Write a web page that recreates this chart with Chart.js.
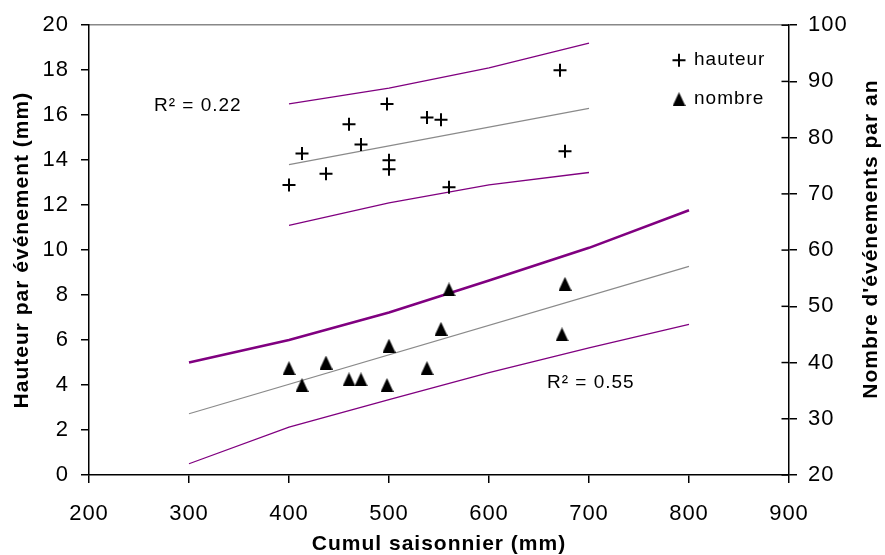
<!DOCTYPE html>
<html>
<head>
<meta charset="utf-8">
<script src="https://cdn.jsdelivr.net/npm/chart.js@4.4.1/dist/chart.umd.min.js"></script>
<style>
  body { margin: 0; background: #fff; }
  canvas { display: block; }
</style>
</head>
<body>
<canvas id="chart" width="885" height="555"></canvas>
<script>
// Hauteur par evenement (axe de gauche)
const cumulH = [400, 413, 437, 460, 472, 498, 500, 500, 538, 552, 560, 671, 676];
const hauteur = [12.9, 14.3, 13.4, 15.6, 14.7, 16.5, 14.0, 13.6, 15.9, 15.8, 12.8, 18.0, 14.4];

// Nombre d'evenements par an (axe de droite)
const cumulN = [400, 413, 437, 460, 472, 500, 498, 538, 552, 560, 673, 676];
const nombre = [39, 36, 40, 37, 37, 43, 36, 39, 46, 53, 45, 54];

// regression + intervalles
const bandH_x = [400, 500, 600, 700];
const bandH_hi = [16.5, 17.2, 18.1, 19.2];
const bandH_lo = [11.1, 12.1, 12.9, 13.45];
const trendH_x = [400, 700];
const trendH = [13.8, 16.3];

const bandN_x = [300, 400, 500, 600, 700, 800];
const bandN_hi = [40.0, 44.0, 48.9, 54.6, 60.4, 67.1];
const bandN_lo = [22.0, 28.5, 33.4, 38.2, 42.6, 46.8];
const trendN_x = [300, 800];
const trendN = [30.9, 57.1];

const r2H = 'R\u00b2 = 0.22';
const r2N = 'R\u00b2 = 0.55';
const titleY2 = "Nombre d'événements par an";

const xTicks = [200, 300, 400, 500, 600, 700, 800, 900];

const purple = '#800080';
const grey = '#8a8a8a';
const FONT = '"Liberation Sans", Arial, sans-serif';

function pts(xs, ys) {
  return xs.map((x, i) => ({ x: x, y: ys[i] }));
}

// triangle marker
const tri = document.createElement('canvas');
tri.width = 13; tri.height = 14;
const tctx = tri.getContext('2d');
tctx.fillStyle = '#000';
tctx.beginPath();
tctx.moveTo(6.5, 0);
tctx.lineTo(13, 14);
tctx.lineTo(0, 14);
tctx.closePath();
tctx.fill();

Chart.defaults.font.family = FONT;
Chart.defaults.color = '#000';

const spacing = {
  id: 'spacing',
  beforeUpdate(chart) { chart.ctx.letterSpacing = '1px'; },
  beforeLayout(chart) { chart.ctx.letterSpacing = '1px'; },
  beforeDraw(chart) { chart.ctx.letterSpacing = '1px'; }
};

// legende, R2, titre de droite, petits traits vers l'interieur
const extras = {
  id: 'extras',
  afterDraw(chart) {
    const ctx = chart.ctx;
    const a = chart.chartArea;
    const sx = chart.scales.x, sy = chart.scales.y, sy2 = chart.scales.y2;
    ctx.save();
    ctx.letterSpacing = '1px';

    // ticks of right axis also go inside
    ctx.strokeStyle = '#000';
    ctx.lineWidth = 1.5;
    sy2.ticks.forEach(t => {
      const p = sy2.getPixelForValue(t.value);
      ctx.beginPath();
      ctx.moveTo(a.right - 7.5, p);
      ctx.lineTo(a.right, p);
      ctx.stroke();
    });

    ctx.fillStyle = '#000';
    ctx.textBaseline = 'middle';
    ctx.textAlign = 'left';
    ctx.font = '19px ' + FONT;
    ctx.fillText(r2H, sx.getPixelForValue(265), sy.getPixelForValue(16.4));
    ctx.fillText(r2N, sx.getPixelForValue(658), sy2.getPixelForValue(36.4));

    const ds = chart.data.datasets;
    const lx = a.right - 110;
    [0, 1].forEach((k, i) => {
      const y = a.top + 35 + i * 39;
      ctx.strokeStyle = '#000';
      ctx.lineWidth = 2;
      Chart.helpers.drawPoint(ctx, {
        pointStyle: ds[k].pointStyle, radius: ds[k].pointRadius,
        borderWidth: 2, rotation: 0
      }, lx, y);
      ctx.fillText(ds[k].label, lx + 15, y);
    });

    // right title reads bottom to top
    ctx.font = 'bold 21px ' + FONT;
    ctx.textAlign = 'center';
    ctx.translate(a.right + 82, (a.top + a.bottom) / 2 - 11);
    ctx.rotate(-Math.PI / 2);
    ctx.fillText(titleY2, 0, 0);
    ctx.restore();
  }
};

const line = (data, axis, color, width) => ({
  label: '', data: data, yAxisID: axis, showLine: true,
  borderColor: color, borderWidth: width, pointRadius: 0, tension: 0, fill: false
});

new Chart(document.getElementById('chart').getContext('2d'), {
  type: 'scatter',
  data: {
    datasets: [
      { label: 'hauteur', data: pts(cumulH, hauteur), yAxisID: 'y',
        pointStyle: 'cross', pointRadius: 6.5, borderWidth: 2,
        borderColor: '#000', backgroundColor: '#000' },
      { label: 'nombre', data: pts(cumulN, nombre), yAxisID: 'y2',
        pointStyle: tri, pointRadius: 7, borderWidth: 0,
        borderColor: '#000', backgroundColor: '#000' },
      line(pts(trendH_x, trendH), 'y', grey, 1.2),
      line(pts(bandH_x, bandH_hi), 'y', purple, 1.3),
      line(pts(bandH_x, bandH_lo), 'y', purple, 1.3),
      line(pts(trendN_x, trendN), 'y2', grey, 1.2),
      line(pts(bandN_x, bandN_hi), 'y2', purple, 2.6),
      line(pts(bandN_x, bandN_lo), 'y2', purple, 1.3)
    ]
  },
  options: {
    responsive: false,
    animation: false,
    layout: { padding: { top: 23, left: 0, right: 0, bottom: 0 } },
    plugins: { legend: { display: false }, tooltip: { enabled: false } },
    scales: {
      x: {
        type: 'linear', position: 'bottom', min: 200, max: 900,
        afterBuildTicks: s => { s.ticks = xTicks.map(v => ({ value: v })); },
        ticks: { font: { size: 22 }, padding: 18, color: '#000' },
        grid: { drawOnChartArea: false, tickLength: 8, color: '#000', lineWidth: 1.5 },
        border: { color: '#000', width: 1.5 },
        title: { display: true, text: 'Cumul saisonnier (mm)', color: '#000',
          font: { size: 21, weight: 'bold', lineHeight: 1 }, padding: 0 },
        afterFit: s => { s.height = 80; }
      },
      xTop: {
        type: 'linear', position: 'top', min: 200, max: 900,
        ticks: { display: false },
        grid: { display: false },
        border: { color: '#888', width: 1.5 },
        afterFit: s => { s.height = 0; }
      },
      y: {
        position: 'left', min: 0, max: 20,
        ticks: { stepSize: 2, font: { size: 22 }, padding: 12, color: '#000' },
        grid: { drawOnChartArea: false, tickLength: 8, color: '#000', lineWidth: 1.5 },
        border: { color: '#000', width: 1.5 },
        title: { display: true, text: 'Hauteur par événement (mm)', color: '#000',
          font: { size: 21, weight: 'bold', lineHeight: 1 }, padding: { top: 12, bottom: 0 } },
        afterFit: s => { s.width = 89; }
      },
      y2: {
        position: 'right', min: 20, max: 100,
        ticks: { stepSize: 10, font: { size: 22 }, padding: 11, color: '#000' },
        grid: { drawOnChartArea: false, tickLength: 8, color: '#000', lineWidth: 1.5 },
        border: { color: '#000', width: 1.5 },
        afterFit: s => { s.width = 96; }
      }
    }
  },
  plugins: [spacing, extras]
});
</script>
</body>
</html>
